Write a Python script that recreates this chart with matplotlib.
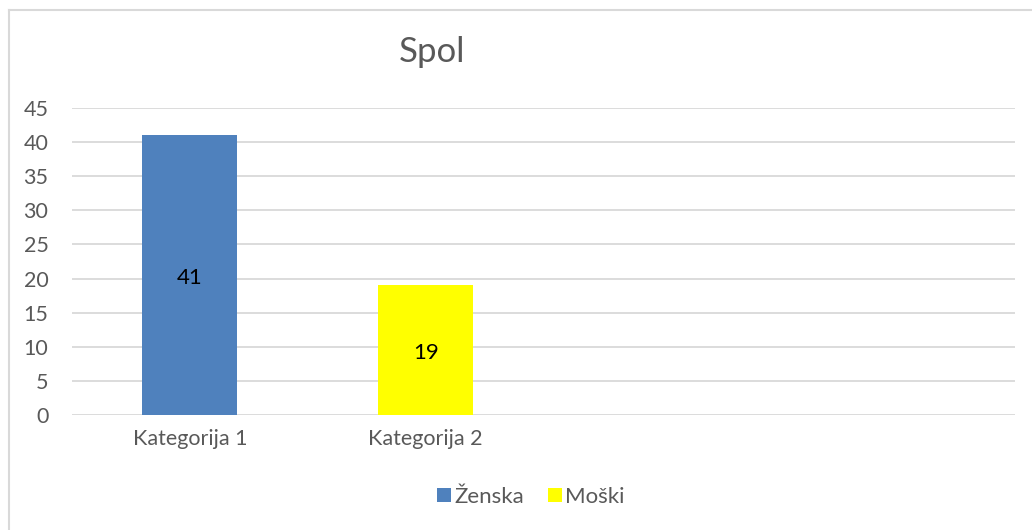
import numpy as np
import matplotlib.pyplot as plt
from matplotlib.lines import Line2D

plt.rcParams['font.family'] = ['Lato', 'DejaVu Sans']

# Data
categories = ['Kategorija 1', 'Kategorija 2', '', '']
zenska = [41, np.nan, np.nan, np.nan]
moski = [np.nan, 19, np.nan, np.nan]
series_names = ['Ženska', 'Moški']
colors = ['#4F81BD', '#FFFF00']

fig = plt.figure(figsize=(10.32, 5.30), dpi=100)
ax = fig.add_axes([72/1032, 1-415/530, (1015-72)/1032, (415-108)/530])

x = np.arange(len(categories))
b1 = ax.bar(x, zenska, width=0.404, color=colors[0], label=series_names[0], zorder=3)
b2 = ax.bar(x, moski, width=0.404, color=colors[1], label=series_names[1], zorder=3)

for bars, vals in [(b1, zenska), (b2, moski)]:
    for rect, v in zip(bars, vals):
        if not np.isnan(v):
            ax.text(rect.get_x() + rect.get_width()/2, v/2 - 0.4, f'{v:g}',
                    ha='center', va='center', fontsize=16, color='black', zorder=4)

ax.set_xlim(-0.5, len(categories) - 0.5)
ax.set_ylim(0, 45)
ax.set_yticks(range(0, 50, 5))
ax.set_xticks(x)
ax.set_xticklabels(categories)
ax.grid(axis='y', color='#D9D9D9', linewidth=1.3, zorder=0)
ax.tick_params(length=0, labelsize=15.5, labelcolor='#595959')
ax.tick_params(axis='x', pad=10)
ax.tick_params(axis='y', pad=17)
for s in ax.spines.values():
    s.set_visible(False)

fig.text(432/1032, 1-52/530, 'Spol', ha='center', va='center', fontsize=25, color='#595959')

fig.legend(handles=[b1, b2], loc='center', bbox_to_anchor=(531/1032, 1-497/530),
           ncol=2, frameon=False, fontsize=16, handlelength=0.6, handleheight=0.6,
           handletextpad=0.15, columnspacing=1.1, labelcolor='#595959')

# chart border
fig.add_artist(Line2D([8.5/1032, 8.5/1032], [0, 1-9.5/530], color='#D9D9D9', lw=1.5))
fig.add_artist(Line2D([8.5/1032, 1], [1-9.5/530, 1-9.5/530], color='#D9D9D9', lw=1.5))

fig.savefig('out.png', dpi=100)
